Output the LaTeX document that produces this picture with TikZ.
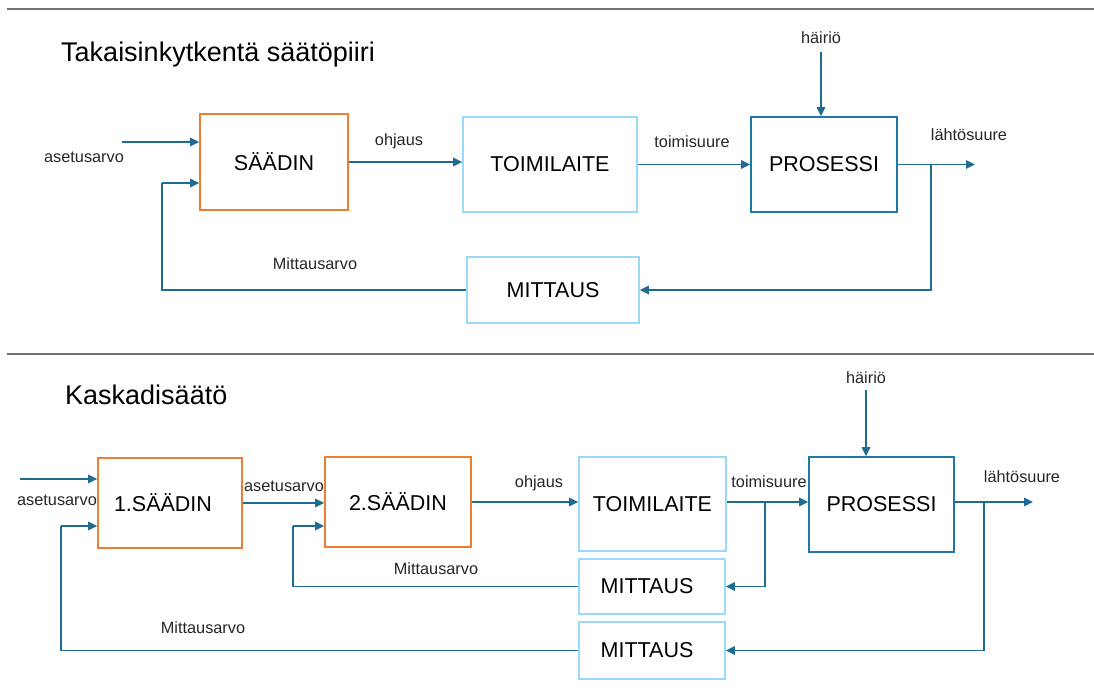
\documentclass[tikz,border=0pt]{standalone}
\usepackage{fontspec}
\setmainfont{Liberation Sans}
\usetikzlibrary{arrows.meta}
\definecolor{orangeline}{HTML}{ED7D31}
\definecolor{lightblue}{HTML}{9AD9F7}
\definecolor{procblue}{HTML}{1F77A6}
\definecolor{arrowblue}{HTML}{1F6B91}
\definecolor{sepgray}{HTML}{707070}
\tikzset{
  box/.style={draw, line width=1.6pt, minimum width=#1, inner sep=0pt, font=\fontsize{21.5}{24}\selectfont},
  ctrl/.style={box=#1, draw=orangeline},
  unit/.style={box=#1, draw=lightblue},
  proc/.style={box=#1, draw=procblue},
  lbl/.style={inner sep=0pt, font=\fontsize{16.3}{18}\selectfont, text=black!85},
  heading/.style={inner sep=0pt, anchor=base west, font=\fontsize{27}{30}\selectfont},
  arr/.style={draw=arrowblue, line width=1.5pt, -{Triangle[length=9pt,width=8.5pt]}},
  wire/.style={draw=arrowblue, line width=1.5pt},
  sep/.style={draw=sepgray, line width=1.2pt}
}
\begin{document}
\begin{tikzpicture}[x=1pt,y=-1pt]
\useasboundingbox (0,0) rectangle (1094,695);

% ---------- feedback loop ----------
\coordinate (sepA) at (7,9);
\coordinate (sepAend) at (1094,9);
\draw[sep] (sepA) -- (sepAend);
\node[heading] (titleA) at (61,62) {Takaisinkytkentä säätöpiiri};

\node[ctrl=148pt, minimum height=96pt] (sa) at (274,162) {SÄÄDIN};
\node[unit=174pt, minimum height=95pt] (ta) at (550,164.5) {TOIMILAITE};
\node[proc=146pt, minimum height=95pt] (pa) at (824,164.5) {PROSESSI};
\node[unit=172pt, minimum height=66pt] (ma) at (553,290) {MITTAUS};

\node[lbl] (setA) at (84,157) {asetusarvo};
\node[lbl] (ohjA) at (399,141) {ohjaus};
\node[lbl] (toimA) at (692,142) {toimisuure};
\node[lbl] (outA) at (969,135) {lähtösuure};
\node[lbl] (distA) at (821,38) {häiriö};
\node[lbl] (measA) at (315,264) {Mittausarvo};

\coordinate (inA) at (122,142);
\coordinate (dA) at (821,52);
\coordinate (brA) at (931,164.5);
\coordinate (endA) at (975,164.5);
\coordinate (fbA1) at (162,290);
\coordinate (fbA2) at (162,183);

\draw[arr] (inA) -- (inA -| sa.west);
\draw[arr] (sa.east) -- (sa.east -| ta.west);
\draw[arr] (ta.east) -- (pa.west);
\draw[arr] (dA) -- (dA |- pa.north);
\draw[arr] (pa.east) -- (endA);
\draw[arr] (brA) |- (ma.east);
\draw[wire] (ma.west) -- (fbA1) -- (fbA2);
\draw[arr] (fbA2) -- (fbA2 -| sa.west);

% ---------- cascade control ----------
\coordinate (sepB) at (7,354);
\coordinate (sepBend) at (1094,354);
\draw[sep] (sepB) -- (sepBend);
\node[heading] (titleB) at (65,404) {Kaskadisäätö};

\node[ctrl=144pt, minimum height=90pt] (s1) at (170,503) {\hspace*{-14pt}1.SÄÄDIN};
\node[ctrl=146pt, minimum height=90pt] (s2) at (398,502) {2.SÄÄDIN};
\node[unit=147pt, minimum height=94pt] (tb) at (652.5,504) {TOIMILAITE};
\node[proc=145pt, minimum height=95pt] (pb) at (881.5,504.5) {PROSESSI};
\node[unit=146pt, minimum height=55pt] (m1) at (652,586.5) {\hspace*{-10pt}MITTAUS};
\node[unit=146pt, minimum height=57pt] (m2) at (652,650.5) {\hspace*{-10pt}MITTAUS};

\node[lbl] (setB) at (57,500) {asetusarvo};
\node[lbl] (setB2) at (284,486) {asetusarvo};
\node[lbl] (ohjB) at (539,483) {ohjaus};
\node[lbl] (toimB) at (769,482) {toimisuure};
\node[lbl] (outB) at (1022,477) {lähtösuure};
\node[lbl] (distB) at (866,378) {häiriö};
\node[lbl] (measB1) at (436,569) {Mittausarvo};
\node[lbl] (measB2) at (203,628) {Mittausarvo};

\coordinate (inB) at (20,479);
\coordinate (dB) at (866,390);
\coordinate (brB1) at (765,502);
\coordinate (brB2) at (984,502);
\coordinate (endB) at (1033,502);
\coordinate (fbB1) at (293,586.5);
\coordinate (fbB2) at (293,526);
\coordinate (fbC1) at (61,650.5);
\coordinate (fbC2) at (61,526);

\draw[arr] (inB) -- (inB -| s1.west);
\draw[arr] (s1.east) -- (s1.east -| s2.west);
\draw[arr] (s2.east) -- (s2.east -| tb.west);
\draw[arr] (tb.east |- brB1) -- (brB1 -| pb.west);
\draw[arr] (dB) -- (dB |- pb.north);
\draw[arr] (brB2 -| pb.east) -- (endB);
\draw[arr] (brB1) |- (m1.east);
\draw[arr] (brB2) |- (m2.east);
\draw[wire] (m1.west) -- (fbB1) -- (fbB2);
\draw[arr] (fbB2) -- (fbB2 -| s2.west);
\draw[wire] (m2.west) -- (fbC1) -- (fbC2);
\draw[arr] (fbC2) -- (fbC2 -| s1.west);
\end{tikzpicture}
\end{document}
